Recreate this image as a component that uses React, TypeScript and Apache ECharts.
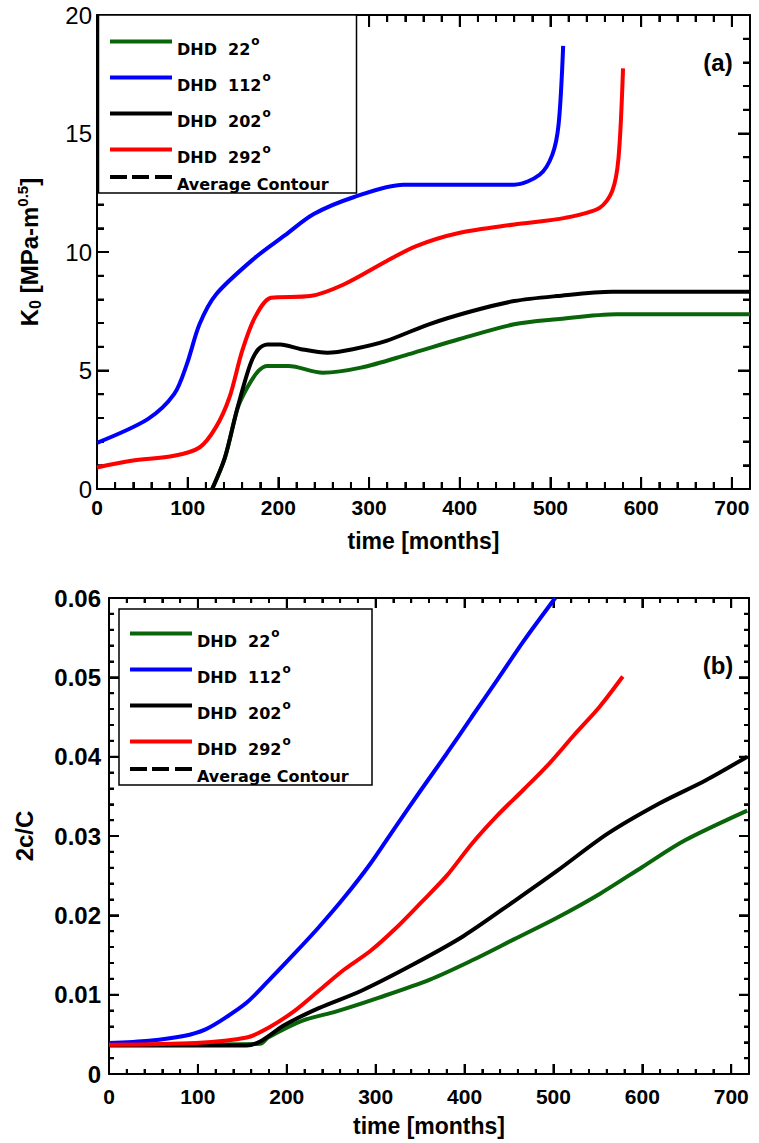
import React, { useEffect, useRef } from "react";
import * as echarts from "echarts";

// ---------- Panel (a): K0 [MPa-m^0.5] vs time [months] ----------
const tA22 = [127, 141, 155, 166, 178, 188, 211, 249, 291, 343, 399, 460, 507, 573, 720];
const kA22 = [0, 1.3, 3.4, 4.3, 4.98, 5.19, 5.19, 4.91, 5.12, 5.68, 6.32, 6.95, 7.16, 7.37, 7.37];

const tA112 = [0, 56, 85, 99, 113, 131, 174, 207, 239, 282, 338, 460, 488, 502, 509, 514];
const kA112 = [1.95, 2.95, 4.0, 5.26, 6.95, 8.2, 9.75, 10.7, 11.6, 12.3, 12.84, 12.84, 13.26, 14.1, 15.4, 18.7];

const tA202 = [127, 141, 155, 169, 178, 188, 202, 225, 254, 282, 319, 366, 413, 460, 507, 568, 720];
const kA202 = [0, 1.33, 3.44, 5.26, 5.9, 6.1, 6.1, 5.9, 5.75, 5.9, 6.25, 6.95, 7.5, 7.93, 8.14, 8.32, 8.32];

const tA292 = [0, 38, 85, 113, 131, 146, 160, 174, 192, 235, 272, 319, 352, 399, 460, 516, 554, 568, 575, 580];
const kA292 = [0.91, 1.19, 1.4, 1.75, 2.6, 3.86, 5.82, 7.23, 8.07, 8.14, 8.63, 9.61, 10.25, 10.8, 11.16, 11.44, 11.86, 12.56, 13.96, 17.75];

// ---------- Panel (b): 2c/C vs time [months] ----------
const tB22 = [0, 170, 179, 217, 256, 303, 361, 408, 456, 504, 552, 600, 647, 718];
const cB22 = [0.0037, 0.0038, 0.0046, 0.0067, 0.0079, 0.0096, 0.0119, 0.0143, 0.017, 0.0197, 0.0227, 0.0261, 0.0294, 0.0332];

const tB112 = [0, 45, 84, 108, 131, 155, 179, 208, 236, 265, 294, 322, 351, 380, 408, 437, 466, 502];
const cB112 = [0.0039, 0.0042, 0.0048, 0.0056, 0.0071, 0.009, 0.0117, 0.0151, 0.0185, 0.0223, 0.0265, 0.0311, 0.0358, 0.0404, 0.045, 0.0497, 0.0545, 0.06];

const tB202 = [0, 155, 170, 198, 236, 284, 342, 399, 456, 504, 561, 619, 671, 718];
const cB202 = [0.0036, 0.0036, 0.0041, 0.0062, 0.0083, 0.0105, 0.0138, 0.0174, 0.0218, 0.0256, 0.0303, 0.0341, 0.037, 0.04];

const tB292 = [0, 98, 155, 179, 208, 236, 265, 294, 322, 351, 380, 408, 437, 466, 495, 523, 552, 578];
const cB292 = [0.0037, 0.0039, 0.0046, 0.0058, 0.0079, 0.0105, 0.0132, 0.0155, 0.0183, 0.0216, 0.025, 0.029, 0.0326, 0.0358, 0.0391, 0.0427, 0.0463, 0.0501];

const seriesNames = ["DHD 22°", "DHD 112°", "DHD 202°", "DHD 292°", "Average Contour"];
const seriesColors = ["#0a640a", "#0000ff", "#000000", "#ff0000", "#000000"];

// ---------- Axes ----------
const xMax = 720;
const xStep = 100;
const xMinorStep = 20;
const yAMax = 20;
const yAStep = 5;
const yAMinorStep = 1;
const yBMax = 0.06;
const yBStep = 0.01;
const yBMinorStep = 0.002;

const zip = (xs: number[], ys: number[]) => xs.map((x, i) => [x, ys[i]]);

const FONT = "'Liberation Sans', Arial, sans-serif";

// tick values strictly inside (0, max): [value, isMajor]
function tickList(max: number, step: number, minorStep: number) {
  const out: number[][] = [];
  const n = Math.round(max / minorStep);
  const per = Math.round(step / minorStep);
  for (let i = 1; i < n; i++) out.push([+(i * minorStep).toFixed(6), i % per === 0 ? 1 : 0]);
  return out;
}

export default function App() {
  const ref = useRef<HTMLDivElement>(null);

  useEffect(() => {
    if (!ref.current) return;
    const chart = echarts.init(ref.current, null, { renderer: "svg" });

    const grids = [
      { left: 97, top: 15, width: 653, height: 474 },
      { left: 109, top: 598, width: 640, height: 476 },
    ];

    const axisLineStyle = { color: "#000", width: 2 };

    const makeX = (gridIndex: number, pos: "bottom" | "top", showLabel: boolean) => ({
      type: "value",
      gridIndex,
      position: pos,
      min: 0,
      max: xMax,
      interval: xStep,
      name: showLabel ? "time [months]" : "",
      nameLocation: "middle",
      nameGap: 40,
      nameTextStyle: { fontFamily: FONT, fontSize: 23, fontWeight: "bold", color: "#000" },
      axisLine: { show: true, onZero: false, lineStyle: axisLineStyle },
      axisTick: { show: true, inside: true, length: gridIndex === 0 ? 12 : 10, lineStyle: { color: "#000", width: 2 } },
      minorTick: { show: true, splitNumber: 5, length: gridIndex === 0 ? 7 : 5, lineStyle: { color: "#000", width: 2 } },
      splitLine: { show: false },
      axisLabel: {
        show: showLabel,
        margin: gridIndex === 0 ? 8 : 12,
        fontFamily: FONT,
        fontSize: 21,
        fontWeight: "bold",
        color: "#000",
        formatter: (v: number) => (v % xStep === 0 ? String(v) : ""),
      },
    });

    const makeY = (gridIndex: number, pos: "left" | "right", showLabel: boolean) => ({
      type: "value",
      gridIndex,
      position: pos,
      min: 0,
      max: gridIndex === 0 ? yAMax : yBMax,
      interval: gridIndex === 0 ? yAStep : yBStep,
      axisLine: { show: true, onZero: false, lineStyle: axisLineStyle },
      axisTick: { show: true, inside: true, length: gridIndex === 0 ? 12 : 10, lineStyle: { color: "#000", width: 2 } },
      minorTick: { show: true, splitNumber: 5, length: gridIndex === 0 ? 7 : 5, lineStyle: { color: "#000", width: 2 } },
      splitLine: { show: false },
      axisLabel: {
        show: showLabel,
        margin: gridIndex === 0 ? 5 : 8,
        fontFamily: FONT,
        fontSize: 24,
        fontWeight: gridIndex === 0 ? "normal" : "bold",
        color: "#000",
        formatter: (v: number) => (gridIndex === 0 ? String(v) : v === 0 ? "0" : v.toFixed(2)),
      },
    });

    const mkSeries = (name: string, color: string, data: number[][], xi: number, yi: number, dashed = false) => ({
      type: "line",
      name,
      xAxisIndex: xi,
      yAxisIndex: yi,
      data,
      showSymbol: false,
      symbol: "none",
      smooth: 0.3,
      clip: true,
      lineStyle: { color, width: 4, type: dashed ? "dashed" : "solid" },
      itemStyle: { color },
      z: 2,
    });

    const series = [
      mkSeries(seriesNames[0], seriesColors[0], zip(tA22, kA22), 0, 0),
      mkSeries(seriesNames[1], seriesColors[1], zip(tA112, kA112), 0, 0),
      mkSeries(seriesNames[2], seriesColors[2], zip(tA202, kA202), 0, 0),
      mkSeries(seriesNames[3], seriesColors[3], zip(tA292, kA292), 0, 0),
      mkSeries(seriesNames[4], seriesColors[4], [], 0, 0, true),
      mkSeries(seriesNames[0], seriesColors[0], zip(tB22, cB22), 2, 2),
      mkSeries(seriesNames[1], seriesColors[1], zip(tB112, cB112), 2, 2),
      mkSeries(seriesNames[2], seriesColors[2], zip(tB202, cB202), 2, 2),
      mkSeries(seriesNames[3], seriesColors[3], zip(tB292, cB292), 2, 2),
      mkSeries(seriesNames[4], seriesColors[4], [], 2, 2, true),
    ];

    const legendRich = {
      n: { fontFamily: "'DejaVu Sans', sans-serif", fontSize: 16, fontWeight: "bold", color: "#000", verticalAlign: "bottom", lineHeight: 19 },
      s: { fontFamily: "'DejaVu Sans', sans-serif", fontSize: 12, fontWeight: "bold", color: "#000", verticalAlign: "bottom", lineHeight: 19, padding: [0, 0, 10, 1] },
    };
    const legendFmt = (name: string) =>
      name.endsWith("°") ? `{n|${name.slice(0, -1).replace(" ", "  ")}}{s|o}` : `{n|${name}}`;

    const solidIcon = "path://M0,0h62v4h-62z";
    const dashIcon = "path://M0,0h17v4h-17z M22,0h17v4h-17z M45,0h17v4h-17z";

    const makeLegends = (left: number, lineYs: number[]) =>
      seriesNames.map((nm, i) => ({
        show: true,
        data: [{ name: nm, icon: nm === "Average Contour" ? dashIcon : solidIcon }],
        left,
        top: lineYs[i] - 2,
        orient: "vertical",
        itemWidth: 62,
        itemHeight: 4,
        padding: 0,
        selectedMode: false,
        z: 12,
        formatter: legendFmt,
        textStyle: { rich: legendRich, padding: [12, 0, 0, 0] },
      }));

    const legends = [
      ...makeLegends(110, [37, 73, 109, 145, 177]),
      ...makeLegends(130, [629, 665, 701, 737, 769]),
    ];

    const titleRich = {
      b: { fontFamily: FONT, fontSize: 24, fontWeight: "bold", color: "#000" },
      sub: { fontFamily: FONT, fontSize: 16, fontWeight: "bold", color: "#000", verticalAlign: "top", padding: [12, 0, 0, 0] },
      sup: { fontFamily: FONT, fontSize: 15, fontWeight: "bold", color: "#000", verticalAlign: "bottom", padding: [0, 0, 14, 0] },
    };

    const baseGraphics: any[] = [
      {
        type: "rect",
        shape: { x: 98.5, y: 15, width: 258, height: 178 },
        style: { fill: "#fff", stroke: "#000", lineWidth: 1.5 },
        z: 11,
      },
      {
        type: "rect",
        shape: { x: 119, y: 609, width: 253, height: 176 },
        style: { fill: "#fff", stroke: "#000", lineWidth: 1.5 },
        z: 11,
      },
      {
        type: "text",
        x: 718,
        y: 62,
        style: { text: "(a)", fontFamily: FONT, fontSize: 24, fontWeight: "bold", fill: "#000", align: "center", verticalAlign: "middle" },
        z: 12,
      },
      {
        type: "text",
        x: 718,
        y: 665,
        style: { text: "(b)", fontFamily: FONT, fontSize: 24, fontWeight: "bold", fill: "#000", align: "center", verticalAlign: "middle" },
        z: 12,
      },
    ];

    chart.setOption({
      animation: false,
      backgroundColor: "#fff",
      grid: grids.map((g) => ({ ...g, containLabel: false })),
      xAxis: [makeX(0, "bottom", true), makeX(0, "top", false), makeX(1, "bottom", true), makeX(1, "top", false)],
      yAxis: [
        {
          ...makeY(0, "left", true),
          name: "{b|K}{sub|0}{b| [MPa-m}{sup|0.5}{b|]}",
          nameLocation: "middle",
          nameGap: 53,
          nameRotate: 90,
          nameTextStyle: { rich: titleRich },
        },
        makeY(0, "right", false),
        {
          ...makeY(1, "left", true),
          name: "2c/C",
          nameLocation: "middle",
          nameGap: 73,
          nameRotate: 90,
          nameTextStyle: { fontFamily: FONT, fontSize: 24, fontWeight: "bold", color: "#000" },
        },
        makeY(1, "right", false),
      ],
      legend: legends,
      graphic: baseGraphics,
      series,
    });

    // value -> pixel through the grid's own scales (with a linear fallback)
    const px = (gridIndex: number, yMax: number, x: number, y: number): number[] => {
      let p: any = null;
      try {
        p = chart.convertToPixel({ gridIndex } as any, [x, y]);
      } catch (e) {
        p = null;
      }
      if (!p || !isFinite(p[0]) || !isFinite(p[1])) {
        const g = grids[gridIndex];
        p = [g.left + (x / xMax) * g.width, g.top + g.height - (y / yMax) * g.height];
      }
      return p;
    };

    // Inward ticks on all four sides, one zig-zag polyline per side.
    const tickEls: any[] = [];
    const addTicks = (gridIndex: number, yMax: number, yStep: number, yMinor: number, major: number, minor: number) => {
      const xt = tickList(xMax, xStep, xMinorStep);
      const yt = tickList(yMax, yStep, yMinor);
      const bottom: number[][] = [px(gridIndex, yMax, 0, 0)];
      const top: number[][] = [px(gridIndex, yMax, 0, yMax)];
      xt.forEach(([v, isMajor]) => {
        const len = isMajor ? major : minor;
        const b = px(gridIndex, yMax, v, 0);
        const t = px(gridIndex, yMax, v, yMax);
        bottom.push([b[0], b[1]], [b[0], b[1] - len], [b[0], b[1]]);
        top.push([t[0], t[1]], [t[0], t[1] + len], [t[0], t[1]]);
      });
      bottom.push(px(gridIndex, yMax, xMax, 0));
      top.push(px(gridIndex, yMax, xMax, yMax));
      const left: number[][] = [px(gridIndex, yMax, 0, 0)];
      const right: number[][] = [px(gridIndex, yMax, xMax, 0)];
      yt.forEach(([v, isMajor]) => {
        const len = isMajor ? major : minor;
        const l = px(gridIndex, yMax, 0, v);
        const r = px(gridIndex, yMax, xMax, v);
        left.push([l[0], l[1]], [l[0] + len, l[1]], [l[0], l[1]]);
        right.push([r[0], r[1]], [r[0] - len, r[1]], [r[0], r[1]]);
      });
      left.push(px(gridIndex, yMax, 0, yMax));
      right.push(px(gridIndex, yMax, xMax, yMax));
      [bottom, top, left, right].forEach((points) =>
        tickEls.push({
          type: "polyline",
          z: 1,
          shape: { points },
          style: { stroke: "#000", lineWidth: 2, fill: "none" },
        })
      );
    };
    addTicks(0, yAMax, yAStep, yAMinorStep, 12, 7);
    addTicks(1, yBMax, yBStep, yBMinorStep, 10, 5);

    chart.setOption({ graphic: [...baseGraphics, ...tickEls] });

    return () => chart.dispose();
  }, []);

  return (
    <div
      ref={ref}
      style={{ position: "fixed", left: 0, top: 0, width: 759, height: 1143, background: "#fff" }}
    />
  );
}
